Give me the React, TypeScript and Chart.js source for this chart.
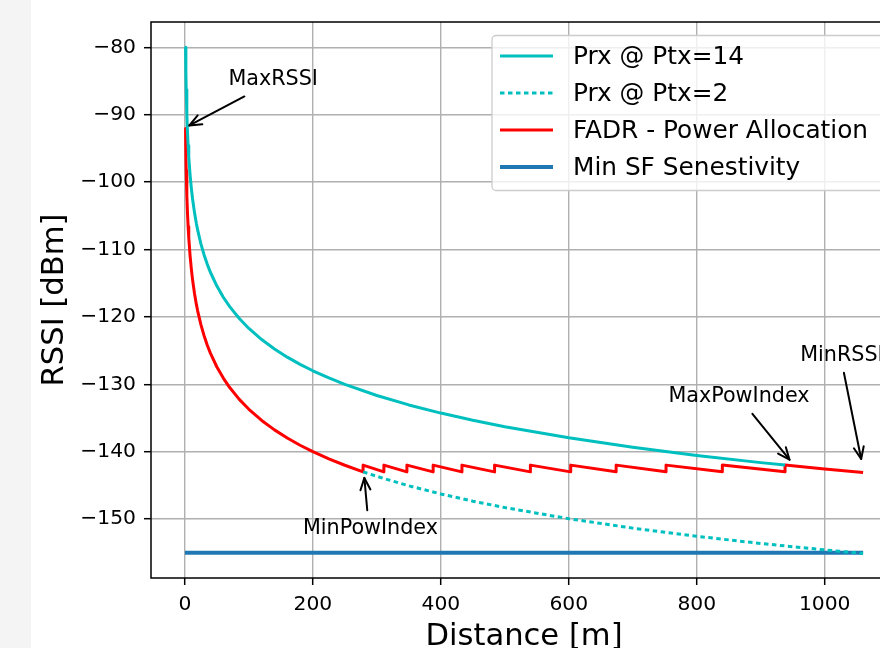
import React, { useEffect, useRef } from 'react';
import { Chart, registerables } from 'chart.js';

Chart.register(...registerables);

const FONT = '"DejaVu Sans", "Liberation Sans", sans-serif';

// Axes
const xTicks = [0, 200, 400, 600, 800, 1000];
const yTicks = [-80, -90, -100, -110, -120, -130, -140, -150];
const xRange = [-53, 1113];
const yRange = [-158.75, -76.25];

// Prx @ Ptx=14
const ptx14Dist = [1, 1.5, 2, 3, 4, 5, 6, 8, 10, 12, 15, 18, 20, 25, 30, 35, 40, 50, 60, 70, 85, 100, 120, 140, 160, 180, 200, 225, 250, 300, 350, 400, 450, 500, 600, 700, 800, 900, 938];
const ptx14Rssi = [-80, -83.67, -86.28, -89.95, -92.56, -94.58, -96.23, -98.84, -100.86, -102.51, -104.53, -106.19, -107.14, -109.16, -110.81, -112.21, -113.42, -115.44, -117.09, -118.49, -120.25, -121.72, -123.37, -124.77, -125.98, -127.05, -128.0, -129.07, -130.02, -131.67, -133.07, -134.28, -135.35, -136.3, -137.95, -139.35, -140.56, -141.63, -142.0];

// Prx @ Ptx=2 (dotted, beyond MinPowIndex)
const ptx2Dist = [278.5, 300, 350, 400, 450, 500, 600, 700, 800, 900, 1000, 1060];
const ptx2Rssi = [-143, -143.67, -145.07, -146.28, -147.35, -148.3, -149.95, -151.35, -152.56, -153.63, -154.58, -155.11];

// FADR - Power Allocation
const fadrDist = [1, 1.5, 2, 3, 4, 5, 6, 8, 10, 12, 15, 18, 20, 25, 30, 35, 40, 50, 60, 70, 85, 100, 120, 140, 160, 180, 200, 225, 250, 278.5, 278.5, 311, 311, 347, 347, 388, 388, 433, 433, 484, 484, 540, 540, 603, 603, 674, 674, 752, 752, 840, 840, 938, 938, 1000, 1060];
const fadrRssi = [-92, -95.67, -98.28, -101.95, -104.56, -106.58, -108.23, -110.84, -112.86, -114.51, -116.53, -118.19, -119.14, -121.16, -122.81, -124.21, -125.42, -127.44, -129.09, -130.49, -132.25, -133.72, -135.37, -136.77, -137.98, -139.05, -140.0, -141.07, -142.02, -143, -142, -143, -142, -143, -142, -143, -142, -143, -142, -143, -142, -143, -142, -143, -142, -143, -142, -143, -142, -143, -142, -143, -142, -142.58, -143.11];

// Min SF Senestivity
const sensDist = [0, 1060];
const sensRssi = [-155, -155];

const seriesLabels = ['Prx @ Ptx=14', 'Prx @ Ptx=2', 'FADR - Power Allocation', 'Min SF Senestivity'];

// Annotations (data coordinates)
const annLabels = ['MaxRSSI', 'MinPowIndex', 'MaxPowIndex', 'MinRSSI'];
const annTextX = [138, 290, 866, 1027];
const annTextY = [-84.8, -151.35, -131.9, -125.7];
const annFromX = [93, 285, 887, 1030];
const annFromY = [-87.3, -148.7, -134.4, -128.3];
const annToX = [7, 280.5, 945, 1057];
const annToY = [-91.6, -143.9, -141.2, -141.1];

const toXY = (xs: number[], ys: number[]) => xs.map((x, i) => ({ x, y: ys[i] }));
const fmt = (v: number) => (v < 0 ? '\u2212' + Math.abs(v) : String(v));

const framePlugin = {
  id: 'mplFrame',
  afterDatasetsDraw(chart: any) {
    const { ctx, chartArea: a } = chart;
    ctx.save();
    ctx.strokeStyle = '#000';
    ctx.lineWidth = 1.5;
    ctx.strokeRect(a.left, a.top, a.right - a.left, a.bottom - a.top);
    ctx.restore();
  },
};

const annotationPlugin = {
  id: 'mplAnnotations',
  afterDatasetsDraw(chart: any) {
    const { ctx } = chart;
    const xs = chart.scales.x;
    const ys = chart.scales.y;
    ctx.save();
    ctx.fillStyle = '#000';
    ctx.strokeStyle = '#000';
    ctx.lineWidth = 2;
    ctx.lineCap = 'round';
    ctx.lineJoin = 'round';
    ctx.font = `20.7px ${FONT}`;
    ctx.textAlign = 'center';
    ctx.textBaseline = 'middle';
    annLabels.forEach((label, i) => {
      ctx.fillText(label, xs.getPixelForValue(annTextX[i]), ys.getPixelForValue(annTextY[i]));
      const x0 = xs.getPixelForValue(annFromX[i]);
      const y0 = ys.getPixelForValue(annFromY[i]);
      const x1 = xs.getPixelForValue(annToX[i]);
      const y1 = ys.getPixelForValue(annToY[i]);
      const ang = Math.atan2(y1 - y0, x1 - x0);
      const hl = 12;
      const hw = 5;
      ctx.beginPath();
      ctx.moveTo(x0, y0);
      ctx.lineTo(x1, y1);
      ctx.stroke();
      const bx = x1 - hl * Math.cos(ang);
      const by = y1 - hl * Math.sin(ang);
      const px = -Math.sin(ang) * hw;
      const py = Math.cos(ang) * hw;
      ctx.beginPath();
      ctx.moveTo(bx + px, by + py);
      ctx.lineTo(x1, y1);
      ctx.lineTo(bx - px, by - py);
      ctx.stroke();
    });
    ctx.restore();
  },
};

const legendPlugin = {
  id: 'mplLegend',
  afterDraw(chart: any) {
    const { ctx, chartArea: a } = chart;
    const left = 461;
    const top = 35.5;
    const right = a.right - 10;
    const bottom = 190.5;
    ctx.save();
    ctx.beginPath();
    ctx.roundRect(left, top, right - left, bottom - top, 4);
    ctx.fillStyle = 'rgba(255,255,255,0.8)';
    ctx.fill();
    ctx.strokeStyle = '#cccccc';
    ctx.lineWidth = 1.3;
    ctx.stroke();
    chart.data.datasets.forEach((ds: any, i: number) => {
      const y = 57.6 + i * 37;
      ctx.beginPath();
      ctx.setLineDash(ds.borderDash || []);
      ctx.strokeStyle = ds.borderColor;
      ctx.lineWidth = ds.borderWidth;
      ctx.moveTo(469, y - 1.5);
      ctx.lineTo(522, y - 1.5);
      ctx.stroke();
      ctx.setLineDash([]);
      ctx.fillStyle = '#000';
      ctx.font = `24.8px ${FONT}`;
      ctx.textAlign = 'left';
      ctx.textBaseline = 'middle';
      ctx.fillText(ds.label, 542, y);
    });
    ctx.restore();
  },
};

export default function App() {
  const canvasRef = useRef<HTMLCanvasElement | null>(null);

  useEffect(() => {
    const canvas = canvasRef.current;
    if (!canvas) return;
    const tickFont = { family: FONT, size: 20.3 };
    const chart = new Chart(canvas, {
      type: 'line',
      data: {
        datasets: [
          {
            label: seriesLabels[0],
            data: toXY(ptx14Dist, ptx14Rssi),
            borderColor: '#00bfbf',
            borderWidth: 3,
            order: 1,
          },
          {
            label: seriesLabels[1],
            data: toXY(ptx2Dist, ptx2Rssi),
            borderColor: '#00bfbf',
            borderWidth: 3,
            borderDash: [4.5, 3.5],
            order: 2,
          },
          {
            label: seriesLabels[2],
            data: toXY(fadrDist, fadrRssi),
            borderColor: '#ff0000',
            borderWidth: 3,
            order: 3,
          },
          {
            label: seriesLabels[3],
            data: toXY(sensDist, sensRssi),
            borderColor: '#1f77b4',
            borderWidth: 4,
            order: 4,
          },
        ],
      },
      options: {
        animation: false,
        responsive: false,
        maintainAspectRatio: false,
        devicePixelRatio: 1,
        parsing: false,
        layout: { padding: { left: 0, right: 34, top: 22, bottom: 0 } },
        elements: {
          point: { radius: 0, hoverRadius: 0 },
          line: { tension: 0, fill: false, borderJoinStyle: 'round' },
        },
        plugins: { legend: { display: false }, tooltip: { enabled: false } },
        scales: {
          x: {
            type: 'linear',
            min: xRange[0],
            max: xRange[1],
            afterBuildTicks: (s: any) => {
              s.ticks = xTicks.map((v) => ({ value: v }));
            },
            afterFit: (s: any) => {
              s.height = 82;
            },
            ticks: {
              font: tickFont,
              color: '#000',
              padding: 8,
              maxRotation: 0,
              autoSkip: false,
              callback: (v: any) => fmt(Number(v)),
            },
            grid: {
              color: '#b0b0b0',
              lineWidth: 1.4,
              tickLength: 7,
              tickColor: '#000',
              tickWidth: 1.5,
            },
            border: { display: false },
            title: {
              display: true,
              text: 'Distance [m]',
              color: '#000',
              font: { family: FONT, size: 30.6 },
              padding: { top: 0, bottom: 4.6 },
            },
          },
          y: {
            type: 'linear',
            min: yRange[0],
            max: yRange[1],
            afterBuildTicks: (s: any) => {
              s.ticks = yTicks.map((v) => ({ value: v }));
            },
            afterFit: (s: any) => {
              s.width = 120;
            },
            ticks: {
              font: tickFont,
              color: '#000',
              padding: 8,
              autoSkip: false,
              callback: (v: any) => fmt(Number(v)),
            },
            grid: {
              color: '#b0b0b0',
              lineWidth: 1.4,
              tickLength: 7,
              tickColor: '#000',
              tickWidth: 1.5,
            },
            border: { display: false },
            title: {
              display: true,
              text: 'RSSI [dBm]',
              color: '#000',
              font: { family: FONT, size: 30.6 },
              padding: { top: 5.6, bottom: 0 },
            },
          },
        },
      },
      plugins: [framePlugin, annotationPlugin, legendPlugin],
    } as any);
    return () => chart.destroy();
  }, []);

  return (
    <div
      style={{
        position: 'fixed',
        left: 0,
        top: 0,
        width: 880,
        height: 648,
        overflow: 'hidden',
        background: '#ffffff',
      }}
    >
      <div style={{ position: 'absolute', left: 0, top: 0, width: 31, height: 648, background: '#f4f4f4' }} />
      <canvas
        ref={canvasRef}
        width={900}
        height={660}
        style={{ position: 'absolute', left: 31, top: 0, width: 900, height: 660, display: 'block' }}
      />
    </div>
  );
}
